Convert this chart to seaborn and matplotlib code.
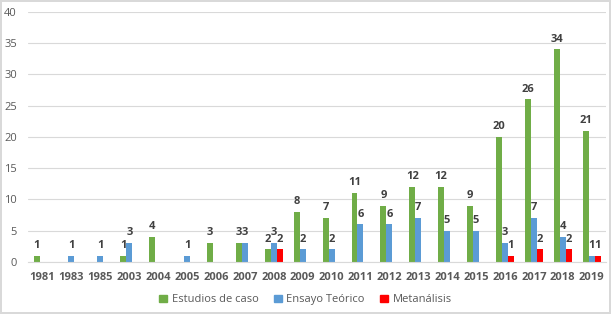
import pandas as pd
import seaborn as sns
import matplotlib
import matplotlib.pyplot as plt
from matplotlib.patches import Patch

matplotlib.use("Agg")

years = ["1981", "1983", "1985", "2003", "2004", "2005", "2006", "2007", "2008", "2009",
         "2010", "2011", "2012", "2013", "2014", "2015", "2016", "2017", "2018", "2019"]
estudios = [1, 0, 0, 1, 4, 0, 3, 3, 2, 8, 7, 11, 9, 12, 12, 9, 20, 26, 34, 21]
ensayo = [0, 1, 1, 3, 0, 1, 0, 3, 3, 2, 2, 6, 6, 7, 5, 5, 3, 7, 4, 1]
meta = [0, 0, 0, 0, 0, 0, 0, 0, 2, 0, 0, 0, 0, 0, 0, 0, 1, 2, 2, 1]
series = ["Estudios de caso", "Ensayo Teórico", "Metanálisis"]
palette = ["#70AD47", "#5B9BD5", "#FF0000"]

df = pd.concat([
    pd.DataFrame({"Year": years, "Count": vals, "Tipo": name})
    for name, vals in zip(series, [estudios, ensayo, meta])
])

sns.set_style("white")
plt.rcParams["font.family"] = ["Open Sans", "DejaVu Sans"]

fig = plt.figure(figsize=(6.11, 3.14), dpi=100)
fig.patch.set_edgecolor("#d9d9d9")
fig.patch.set_linewidth(1.5)
ax = fig.add_axes([0.046, 0.166, 0.946, 0.796])

sns.barplot(data=df, x="Year", y="Count", hue="Tipo", hue_order=series,
            palette=palette, width=0.62, gap=0, saturation=1, ax=ax,
            legend=False, linewidth=0)

for cont in ax.containers:
    labels = [f"{int(b.get_height())}" if b.get_height() > 0 else "" for b in cont]
    ax.bar_label(cont, labels=labels, padding=3.5, fontsize=8, fontweight="bold",
                 color="#404040")

ax.set_ylim(0, 40)
ax.set_yticks(range(0, 41, 5))
ax.set_xlim(-0.5, len(years) - 0.5)
ax.yaxis.grid(True, color="#d9d9d9", linewidth=0.8)
ax.set_axisbelow(True)
for s in ["left", "right", "top"]:
    ax.spines[s].set_visible(False)
ax.spines["bottom"].set_color("#d9d9d9")
ax.tick_params(axis="both", length=0, colors="#595959")
ax.tick_params(axis="x", pad=7, labelsize=8)
ax.tick_params(axis="y", pad=8, labelsize=8)
for t in ax.get_xticklabels():
    t.set_fontweight("bold")
ax.set_xlabel("")
ax.set_ylabel("")

handles = [Patch(color=c, label=n) for c, n in zip(palette, series)]
fig.legend(handles=handles, loc="center", bbox_to_anchor=(0.5, 0.045), ncol=3,
           frameon=False, fontsize=8, handlelength=0.7, handleheight=0.7,
           handletextpad=0.4, columnspacing=1.4, labelcolor="#595959")

fig.savefig("out.png", dpi=100)
